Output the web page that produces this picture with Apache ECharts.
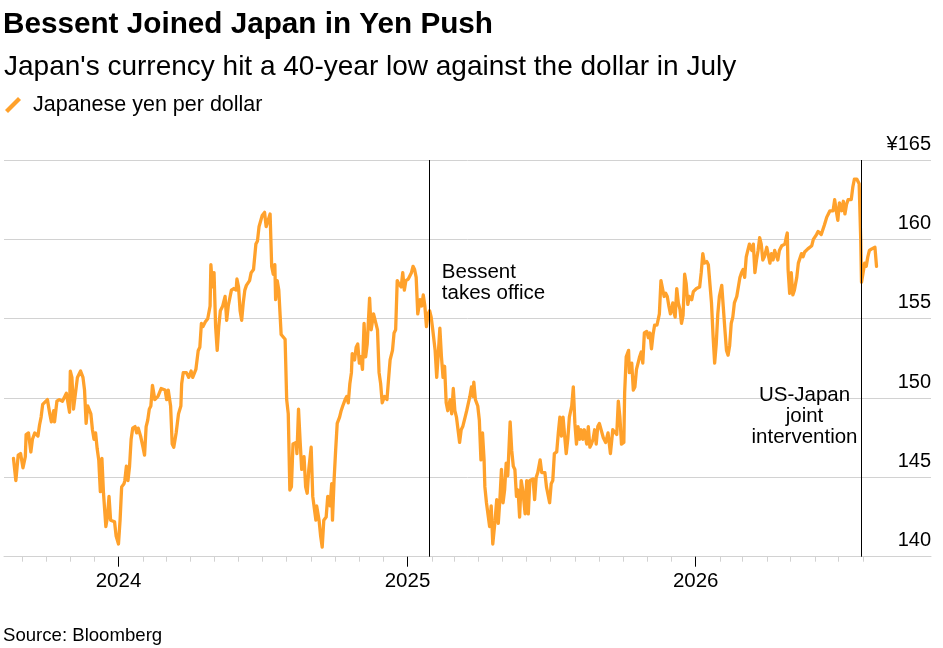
<!DOCTYPE html>
<html lang="en">
<head>
  <meta charset="utf-8">
  <title>Bessent Joined Japan in Yen Push</title>
  <script src="https://cdn.jsdelivr.net/npm/echarts@6/dist/echarts.min.js"></script>
  <style>
    html, body { margin: 0; padding: 0; background: #fff; }
    #main { width: 943px; height: 648px; }
  </style>
</head>
<body>
<div id="main"></div>
<script type="text/javascript">
    // daily-ish readings of the yen per dollar line
    var dates = [
        '2023-08-21','2023-08-24','2023-08-27','2023-08-30',
        '2023-09-02','2023-09-05','2023-09-06','2023-09-09','2023-09-12','2023-09-14','2023-09-17','2023-09-21','2023-09-23','2023-09-25','2023-09-27','2023-09-29',
        '2023-10-03','2023-10-06','2023-10-08','2023-10-11','2023-10-12','2023-10-15','2023-10-18','2023-10-22','2023-10-25','2023-10-27','2023-10-29','2023-10-31',
        '2023-11-01','2023-11-03','2023-11-05','2023-11-08','2023-11-10','2023-11-14','2023-11-17','2023-11-19','2023-11-21','2023-11-23','2023-11-27','2023-11-29',
        '2023-12-01','2023-12-03','2023-12-05','2023-12-07','2023-12-09','2023-12-11','2023-12-13','2023-12-16','2023-12-18','2023-12-20','2023-12-22','2023-12-24','2023-12-27','2023-12-29',
        '2024-01-01','2024-01-03','2024-01-05','2024-01-08','2024-01-09','2024-01-11','2024-01-13','2024-01-15','2024-01-17','2024-01-19','2024-01-22','2024-01-24','2024-01-26','2024-01-29',
        '2024-02-01','2024-02-03','2024-02-05','2024-02-07','2024-02-09','2024-02-11','2024-02-13','2024-02-16','2024-02-20','2024-02-24','2024-02-29',
        '2024-03-02','2024-03-04','2024-03-07','2024-03-09','2024-03-11','2024-03-14','2024-03-17','2024-03-20','2024-03-21','2024-03-23','2024-03-27','2024-03-30',
        '2024-04-02','2024-04-04','2024-04-08','2024-04-11','2024-04-13','2024-04-15','2024-04-17','2024-04-20','2024-04-23','2024-04-26','2024-04-27','2024-04-29',
        '2024-05-01','2024-05-03','2024-05-05','2024-05-07','2024-05-09','2024-05-12','2024-05-15','2024-05-17','2024-05-19','2024-05-21','2024-05-23','2024-05-26','2024-05-29','2024-05-30',
        '2024-06-01','2024-06-03','2024-06-05','2024-06-07','2024-06-09','2024-06-11','2024-06-13','2024-06-15','2024-06-17','2024-06-20','2024-06-23','2024-06-25','2024-06-27','2024-06-29',
        '2024-07-01','2024-07-04','2024-07-06','2024-07-08','2024-07-11','2024-07-13','2024-07-15','2024-07-17','2024-07-18','2024-07-20','2024-07-22','2024-07-25','2024-07-27','2024-07-30',
        '2024-08-01','2024-08-03','2024-08-05','2024-08-07','2024-08-09','2024-08-13','2024-08-14','2024-08-16','2024-08-18','2024-08-20','2024-08-23','2024-08-25','2024-08-27','2024-08-29',
        '2024-09-01','2024-09-03','2024-09-07','2024-09-08','2024-09-11','2024-09-13','2024-09-15','2024-09-17','2024-09-20','2024-09-22','2024-09-25','2024-09-27','2024-09-28','2024-09-30',
        '2024-10-02','2024-10-04','2024-10-07','2024-10-09','2024-10-11','2024-10-14','2024-10-16','2024-10-18','2024-10-20','2024-10-22','2024-10-23','2024-10-26','2024-10-28','2024-10-30',
        '2024-11-01','2024-11-03','2024-11-05','2024-11-07','2024-11-09','2024-11-11','2024-11-14','2024-11-16','2024-11-19','2024-11-22','2024-11-24','2024-11-26','2024-11-28','2024-11-30',
        '2024-12-03','2024-12-06','2024-12-09','2024-12-10','2024-12-13','2024-12-15','2024-12-17','2024-12-19','2024-12-21','2024-12-24','2024-12-26','2024-12-28','2024-12-30',
        '2025-01-02','2025-01-04','2025-01-06','2025-01-08','2025-01-10','2025-01-12','2025-01-14','2025-01-17','2025-01-19','2025-01-21','2025-01-23','2025-01-25','2025-01-27','2025-01-29','2025-01-31',
        '2025-02-02','2025-02-05','2025-02-07','2025-02-09','2025-02-11','2025-02-13','2025-02-15','2025-02-17','2025-02-19','2025-02-21','2025-02-24','2025-02-26','2025-02-28',
        '2025-03-02','2025-03-04','2025-03-06','2025-03-08','2025-03-10','2025-03-12','2025-03-15','2025-03-17','2025-03-21','2025-03-23','2025-03-25','2025-03-26','2025-03-28','2025-03-31',
        '2025-04-02','2025-04-04','2025-04-06','2025-04-08','2025-04-09','2025-04-11','2025-04-13','2025-04-15','2025-04-17','2025-04-19','2025-04-22','2025-04-24','2025-04-26','2025-04-28','2025-04-30',
        '2025-05-02','2025-05-04','2025-05-06','2025-05-08','2025-05-11','2025-05-13','2025-05-15','2025-05-17','2025-05-19','2025-05-21','2025-05-23','2025-05-25','2025-05-27','2025-05-30',
        '2025-06-01','2025-06-03','2025-06-05','2025-06-09','2025-06-11','2025-06-13','2025-06-15','2025-06-18','2025-06-20','2025-06-24','2025-06-26','2025-06-30',
        '2025-07-02','2025-07-04','2025-07-06','2025-07-09','2025-07-11','2025-07-13','2025-07-15','2025-07-17','2025-07-19','2025-07-21','2025-07-23','2025-07-25','2025-07-28','2025-07-30',
        '2025-08-01','2025-08-03','2025-08-05','2025-08-07','2025-08-09','2025-08-11','2025-08-13','2025-08-16','2025-08-18','2025-08-20','2025-08-22','2025-08-24','2025-08-26','2025-08-28','2025-08-30',
        '2025-09-01','2025-09-03','2025-09-06','2025-09-09','2025-09-12','2025-09-15','2025-09-18','2025-09-20','2025-09-23','2025-09-25','2025-09-27','2025-09-29',
        '2025-10-02','2025-10-03','2025-10-05','2025-10-08','2025-10-09','2025-10-12','2025-10-14','2025-10-16','2025-10-18','2025-10-20','2025-10-22','2025-10-24','2025-10-26','2025-10-28','2025-10-31',
        '2025-11-02','2025-11-04','2025-11-06','2025-11-08','2025-11-10','2025-11-13','2025-11-16','2025-11-18','2025-11-20','2025-11-22','2025-11-24','2025-11-26','2025-11-28','2025-11-30',
        '2025-12-03','2025-12-04','2025-12-06','2025-12-08','2025-12-10','2025-12-12','2025-12-14','2025-12-16','2025-12-18','2025-12-20','2025-12-22','2025-12-24','2025-12-27','2025-12-29','2025-12-31',
        '2026-01-02','2026-01-06','2026-01-08','2026-01-10','2026-01-12','2026-01-15','2026-01-17','2026-01-19','2026-01-21','2026-01-23','2026-01-25','2026-01-27','2026-01-29','2026-01-31',
        '2026-02-03','2026-02-05','2026-02-07','2026-02-09','2026-02-11','2026-02-13','2026-02-15','2026-02-17','2026-02-19','2026-02-22','2026-02-24','2026-02-26','2026-02-28',
        '2026-03-02','2026-03-04','2026-03-06','2026-03-08','2026-03-10','2026-03-13','2026-03-15','2026-03-17','2026-03-19','2026-03-21','2026-03-23','2026-03-25','2026-03-27','2026-03-29',
        '2026-04-01','2026-04-03','2026-04-05','2026-04-07','2026-04-09','2026-04-11','2026-04-13','2026-04-15','2026-04-17','2026-04-20','2026-04-22','2026-04-24','2026-04-26','2026-04-27','2026-04-28','2026-04-30',
        '2026-05-02','2026-05-04','2026-05-06','2026-05-09','2026-05-11','2026-05-13','2026-05-15','2026-05-17','2026-05-19','2026-05-21','2026-05-23','2026-05-25','2026-05-28','2026-05-30',
        '2026-06-01','2026-06-03','2026-06-05','2026-06-07','2026-06-09','2026-06-11','2026-06-13','2026-06-16','2026-06-18','2026-06-20','2026-06-22','2026-06-24','2026-06-26','2026-06-28','2026-06-30',
        '2026-07-02','2026-07-05','2026-07-07','2026-07-09','2026-07-11','2026-07-13','2026-07-15','2026-07-17','2026-07-19','2026-07-21','2026-07-24','2026-07-26','2026-07-27','2026-07-29','2026-07-30',
        '2026-08-01','2026-08-03','2026-08-05','2026-08-07','2026-08-09','2026-08-12','2026-08-14','2026-08-16','2026-08-18'
    ];
    var yen = [
        146.2,144.8,146.4,146.5,
        145.6,146.3,147.7,147.8,146.6,147.4,147.8,147.6,148.3,148.8,149.6,149.7,
        149.9,149.0,148.5,149.2,148.5,149.8,149.9,149.8,150.1,150.3,150.3,149.1,
        151.7,151.3,149.3,150.5,151.3,151.7,151.3,150.5,148.4,149.5,149.0,148.0,
        147.4,147.8,146.8,146.1,144.1,146.2,144.0,141.9,142.5,143.8,142.3,142.4,142.2,141.3,
        140.8,142.3,144.4,144.6,144.8,145.7,144.8,145.7,147.4,148.1,148.2,147.8,148.1,147.6,
        146.9,146.4,148.2,148.6,149.3,149.5,150.8,149.9,150.1,150.6,150.5,
        149.9,150.5,149.5,147.1,146.9,147.8,149.0,149.5,150.9,151.6,151.6,151.3,
        151.7,151.3,151.8,153.0,153.2,154.7,154.5,154.8,155.0,155.8,158.4,157.0,
        157.9,154.5,153.0,154.5,155.5,155.8,156.4,154.9,155.8,156.3,156.8,156.9,156.8,157.5,
        157.0,155.5,154.9,156.0,156.8,157.1,157.0,157.4,157.9,158.1,159.7,159.9,160.8,160.9,
        161.5,161.7,160.8,160.8,161.6,158.3,157.8,158.4,156.2,157.4,156.8,154.0,154.0,153.7,
        149.9,149.0,144.2,144.4,147.1,147.2,146.5,149.3,147.3,145.5,146.3,144.4,144.0,145.5,
        146.9,143.8,142.3,143.2,142.3,141.3,140.6,142.3,142.5,143.8,143.2,144.6,142.3,144.8,
        146.7,148.4,148.8,149.2,149.5,149.9,150.1,149.7,150.9,151.6,152.8,152.4,153.2,153.4,
        152.2,152.6,151.8,154.7,152.6,153.4,156.3,154.3,155.3,154.7,154.3,151.6,150.9,149.7,
        150.1,149.9,151.8,152.4,153.0,154.1,154.3,157.4,157.2,157.0,157.9,156.8,157.4,
        157.5,157.6,157.9,158.3,158.1,157.6,155.3,156.2,155.8,156.5,155.8,154.5,155.3,155.5,155.1,
        154.3,153.0,151.3,152.8,154.4,152.6,151.3,152.0,149.7,149.2,149.9,149.0,150.6,
        149.2,148.8,148.0,147.2,148.0,148.2,148.8,149.2,150.1,150.7,150.1,151.0,149.9,149.5,
        148.6,146.1,147.8,146.1,144.4,143.4,143.4,141.9,143.2,140.8,142.3,143.6,142.1,143.6,145.5,
        143.4,144.2,145.9,145.1,148.5,146.7,145.7,145.5,143.8,144.2,142.5,144.8,144.2,142.7,
        144.8,142.7,144.8,144.9,143.6,145.0,145.3,146.1,145.3,145.3,144.4,143.4,
        144.6,144.8,146.5,146.6,147.8,148.8,147.6,148.8,148.9,146.5,147.4,148.8,149.5,150.7,
        148.4,147.1,148.2,147.4,148.0,147.4,148.0,147.1,148.2,146.9,147.1,147.4,148.0,147.1,148.2,
        148.4,148.5,147.5,147.2,147.8,146.5,148.0,148.0,147.7,149.8,148.8,147.1,
        147.2,150.3,152.6,153.0,151.6,152.2,150.5,150.7,151.8,152.2,152.6,152.9,152.2,154.1,154.2,
        153.8,154.1,153.1,154.0,154.6,154.6,155.3,157.4,156.9,156.4,156.6,156.4,155.8,155.3,
        156.0,155.5,155.1,156.9,156.0,155.6,154.7,155.2,157.8,157.2,155.9,156.4,156.2,156.7,156.6,
        156.9,157.0,157.9,159.1,158.5,158.6,158.4,158.4,156.0,153.9,152.2,153.4,155.3,156.4,
        157.1,157.2,154.3,153.0,152.7,153.3,154.7,155.1,156.0,156.4,157.0,157.6,157.9,
        158.1,157.6,158.9,159.3,159.7,159.3,159.7,157.9,158.7,159.3,160.1,159.7,158.7,158.9,
        159.5,159.5,158.5,159.1,158.7,159.3,159.2,158.7,159.3,159.6,159.5,159.7,160.2,160.4,158.1,156.6,
        157.9,156.5,156.8,157.6,158.5,158.8,159.1,158.9,159.2,159.1,159.4,159.3,159.6,160.0,
        160.0,160.3,160.5,160.6,160.3,160.6,160.9,161.4,161.6,161.8,161.7,161.8,162.5,161.8,161.2,
        162.3,161.8,162.4,161.6,162.2,162.5,162.4,162.5,163.3,163.8,163.8,163.8,163.5,160.0,157.3,
        157.2,158.5,158.3,158.9,159.3,159.4,159.3,159.5,158.3
    ];

    var yearTicks = ['2024-01-01', '2025-01-01', '2026-01-01'];
    var eventDates = ['2025-01-28', '2026-07-30'];
    var eventLabels = ['Bessent\ntakes office', 'US-Japan\njoint\nintervention'];

    var FONT = "'Liberation Sans', Arial, sans-serif";
    var ORANGE = '#ffa12b';
    var GRID_GRAY = '#d2d2d2';

    // local-time timestamp for a 'YYYY-MM-DD' string
    var parse = function (s) {
        var p = s.split('-');
        return new Date(+p[0], +p[1] - 1, +p[2]).getTime();
    };

    // month ticks from Sep 2023 to Aug 2026
    var monthTicks = [];
    for (var d = new Date(2023, 8, 1); d <= new Date(2026, 7, 1); d = new Date(d.getFullYear(), d.getMonth() + 1, 1)) {
        monthTicks.push(d.getTime());
    }
    var yearTickValues = yearTicks.map(parse);

    var seriesData = dates.map(function (dt, i) { return [parse(dt), yen[i]]; });

    var xMin = parse('2023-08-09');
    var xMax = parse('2026-10-26');

    var myChart = echarts.init(document.getElementById('main'), null, { renderer: 'canvas' });

    var option = {
        animation: false,
        backgroundColor: '#fff',
        textStyle: { fontFamily: FONT },
        title: [{
            text: 'Bessent Joined Japan in Yen Push',
            left: 3, top: 9.7, padding: 0,
            textStyle: { fontSize: 29.7, fontWeight: 'bold', color: '#000', fontFamily: FONT, lineHeight: 29.7 }
        }, {
            text: "Japan's currency hit a 40-year low against the dollar in July",
            left: 4, top: 53, padding: 0,
            textStyle: { fontSize: 28, fontWeight: 'normal', color: '#000', fontFamily: FONT, lineHeight: 28 }
        }, {
            text: 'Source: Bloomberg',
            left: 3, top: 627, padding: 0,
            textStyle: { fontSize: 18.6, fontWeight: 'normal', color: '#000', fontFamily: FONT, lineHeight: 18.6 }
        }],
        legend: {
            left: 5, top: 94, padding: 0,
            itemWidth: 16, itemHeight: 16,
            icon: 'path://M0,13L13,0L16,3L3,16Z',
            selectedMode: false,
            textStyle: { fontSize: 21.5, color: '#000', fontFamily: FONT, lineHeight: 22, padding: [0, 0, 0, 7] },
            data: ['Japanese yen per dollar']
        },
        grid: {
            left: 4, right: 12, top: 160, bottom: 91.3,
            outerBoundsMode: 'none'
        },
        xAxis: [{
            // monthly minor ticks
            type: 'value',
            min: xMin, max: xMax,
            axisLine: { show: true, lineStyle: { color: GRID_GRAY, width: 1 } },
            axisTick: { show: true, length: 5, lineStyle: { color: GRID_GRAY, width: 1 }, customValues: monthTicks },
            axisLabel: { show: false },
            splitLine: { show: false }
        }, {
            // year ticks with labels
            type: 'value',
            position: 'bottom',
            min: xMin, max: xMax,
            axisLine: { show: false },
            axisTick: { show: true, length: 10, lineStyle: { color: '#000', width: 1 }, customValues: yearTickValues },
            axisLabel: {
                show: true, margin: 14.5, fontSize: 20.5, color: '#000', fontFamily: FONT, lineHeight: 20.5,
                customValues: yearTickValues,
                formatter: function (v) { return String(new Date(v).getFullYear()); }
            },
            splitLine: { show: false }
        }],
        yAxis: {
            type: 'value',
            position: 'right',
            min: 140, max: 165, interval: 5,
            axisLine: { show: false },
            axisTick: { show: false },
            splitLine: { show: true, lineStyle: { color: GRID_GRAY, width: 1 } },
            axisLabel: {
                inside: true, margin: 0, verticalAlign: 'bottom',
                padding: [0, 0, 6, 0],
                fontSize: 20, color: '#000', fontFamily: FONT, lineHeight: 20,
                formatter: function (v) { return v === 165 ? '¥165' : String(v); }
            }
        },
        series: [{
            name: 'Japanese yen per dollar',
            type: 'line',
            xAxisIndex: 0,
            data: seriesData,
            symbol: 'none',
            showSymbol: false,
            color: ORANGE,
            itemStyle: { color: ORANGE },
            lineStyle: { color: ORANGE, width: 3.3, join: 'round', cap: 'round' },
            emphasis: { disabled: true },
            markLine: {
                silent: true,
                symbol: ['none', 'none'],
                label: { show: false },
                emphasis: { disabled: true },
                lineStyle: { color: '#000', width: 1, type: 'solid' },
                data: eventDates.map(function (dt) { return { xAxis: parse(dt) }; })
            }
        }]
    };

    myChart.setOption(option);

    // annotations next to the event lines
    var bx = myChart.convertToPixel({ xAxisIndex: 0 }, parse(eventDates[0]));
    var ix = myChart.convertToPixel({ xAxisIndex: 0 }, parse(eventDates[1]));
    myChart.setOption({
        graphic: [{
            type: 'text', x: bx + 13, y: 262, silent: true,
            style: { text: eventLabels[0], fontSize: 20.5, fontFamily: FONT, fill: '#000', lineHeight: 20.7, align: 'left', verticalAlign: 'top' }
        }, {
            type: 'text', x: ix - 57, y: 384.5, silent: true,
            style: { text: eventLabels[1], fontSize: 20.5, fontFamily: FONT, fill: '#000', lineHeight: 21.3, align: 'center', verticalAlign: 'top' }
        }]
    });
</script>
</body>
</html>
